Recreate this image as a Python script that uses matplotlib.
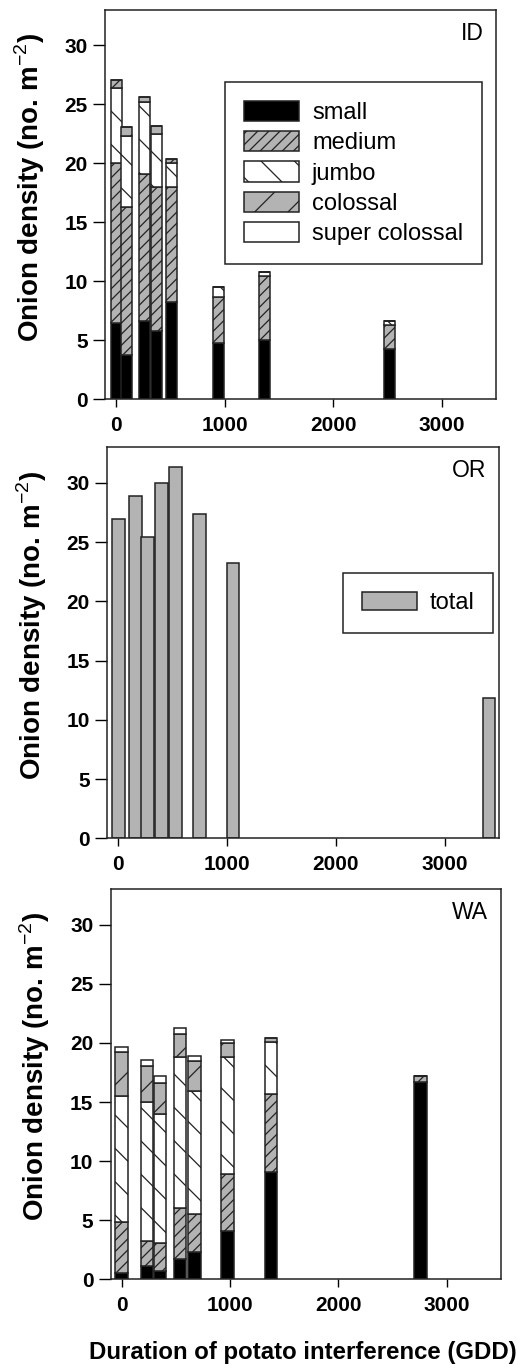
import matplotlib.pyplot as plt
import numpy as np

plt.rcParams['font.family'] = ['Liberation Sans', 'DejaVu Sans']
plt.rcParams['mathtext.fontset'] = 'custom'
plt.rcParams['mathtext.rm'] = 'Liberation Sans'
plt.rcParams['mathtext.bf'] = 'Liberation Sans:bold'
plt.rcParams['hatch.linewidth'] = 0.9

# size classes
sizes = ['small', 'medium', 'jumbo', 'colossal', 'super colossal']

# ID - onion density by size class
id_gdd = [0, 98, 265, 370, 507, 947, 1364, 2517]
id_small = [6.44, 3.76, 6.64, 5.79, 8.25, 4.75, 5.03, 4.24]
id_medium = [13.56, 12.51, 12.46, 12.18, 9.72, 3.95, 5.42, 2.11]
id_jumbo = [6.36, 6.03, 6.10, 4.49, 2.09, 0.80, 0.37, 0.31]
id_colossal = [0.70, 0.80, 0.45, 0.73, 0.29, 0, 0, 0]
id_super = [0, 0, 0, 0, 0, 0, 0, 0]

# OR - total onion density
or_gdd = [0, 160, 272, 400, 530, 745, 1055, 3409]
or_total = [26.99, 28.85, 25.44, 30.0, 31.3, 27.35, 23.27, 11.8]

# WA - onion density by size class
wa_gdd = [0, 236, 352, 537, 672, 978, 1378, 2756]
wa_small = [0.51, 1.16, 0.73, 1.69, 2.34, 4.09, 9.05, 16.68]
wa_medium = [4.37, 2.09, 2.37, 4.32, 3.16, 4.86, 6.64, 0.56]
wa_jumbo = [10.59, 11.71, 10.87, 12.84, 10.45, 9.85, 4.43, 0]
wa_colossal = [3.72, 3.10, 2.63, 1.90, 2.54, 1.20, 0.26, 0]
wa_super = [0.43, 0.46, 0.62, 0.50, 0.42, 0.21, 0, 0]

gray = '#b3b3b3'
edge = '#222222'
fills = {'small': ('black', None), 'medium': (gray, '///'), 'jumbo': ('white', '\\'),
         'colossal': (gray, '/'), 'super colossal': ('white', None)}

fig = plt.figure(figsize=(5.23, 13.70), dpi=100)
ax1 = fig.add_axes([0.2013, 0.7084, 0.7471, 0.2843])
ax2 = fig.add_axes([0.2052, 0.3881, 0.7489, 0.2854])
ax3 = fig.add_axes([0.2117, 0.0662, 0.7463, 0.2847])


def stacked(ax, x, parts, width):
    bottom = np.zeros(len(x))
    for name, vals in zip(sizes, parts):
        fc, h = fills[name]
        ax.bar(x, vals, width=width, bottom=bottom, color=fc, edgecolor=edge,
               linewidth=1.1, hatch=h, label=name)
        bottom += np.array(vals)


def style(ax, tag):
    ax.set_xlim(-100, 3500)
    ax.set_ylim(0, 33)
    ax.set_xticks([0, 1000, 2000, 3000])
    ax.set_yticks(range(0, 31, 5))
    ax.tick_params(axis='y', direction='out', length=8.5, width=1, pad=4, labelsize=15)
    ax.tick_params(axis='x', direction='out', length=6, width=1, pad=6, labelsize=15)
    for t in ax.get_xticklabels() + ax.get_yticklabels():
        t.set_fontweight('bold')
    for s in ax.spines.values():
        s.set_linewidth(1.1)
        s.set_color(edge)
    ax.set_ylabel(r'Onion density (no. m$^{\mathrm{-2}}$)', fontsize=20, fontweight='bold')
    ax.yaxis.set_label_coords(-0.15, 0.545)
    ax.text(0.9675, 0.969, tag, transform=ax.transAxes, ha='right', va='top', fontsize=16.5)


stacked(ax1, id_gdd, [id_small, id_medium, id_jumbo, id_colossal, id_super], 100)
style(ax1, 'ID')
leg = ax1.legend(loc='upper left', bbox_to_anchor=(0.306, 0.816), borderaxespad=0,
                 fontsize=17, handlelength=2.33, handleheight=0.95, handletextpad=0.56,
                 labelspacing=0.3, borderpad=0.8, fancybox=False, framealpha=1,
                 edgecolor=edge)
leg.get_frame().set_linewidth(1.1)

ax2.bar(or_gdd, or_total, width=117, color=gray, edgecolor=edge, linewidth=1.1, label='total')
style(ax2, 'OR')
leg = ax2.legend(loc='upper left', bbox_to_anchor=(0.601, 0.678), borderaxespad=0,
                 fontsize=17, handlelength=2.33, handleheight=0.8, handletextpad=0.53,
                 borderpad=0.8, fancybox=False, framealpha=1, edgecolor=edge)
leg.get_frame().set_linewidth(1.1)

stacked(ax3, wa_gdd, [wa_small, wa_medium, wa_jumbo, wa_colossal, wa_super], 114)
style(ax3, 'WA')

fig.text(0.58, 0.013, 'Duration of potato interference (GDD)', ha='center', va='center',
         fontsize=17.3, fontweight='bold')

fig.savefig('out.png', dpi=100)
